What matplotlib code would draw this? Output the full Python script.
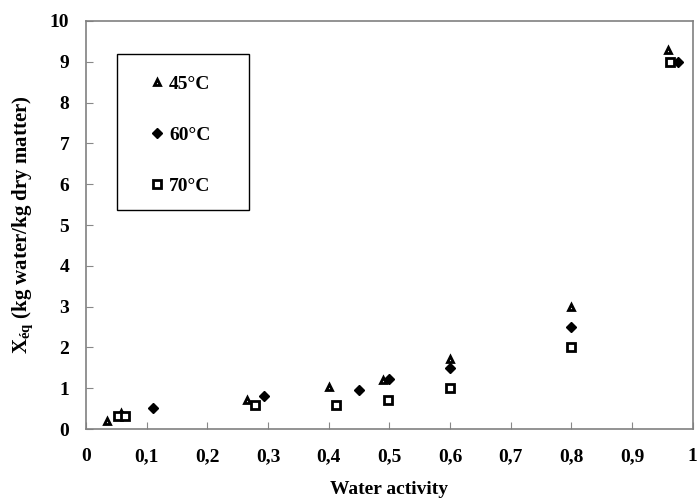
import matplotlib.pyplot as plt
from matplotlib.patches import Rectangle

# water activity / Xeq
aw_45 = [0.035, 0.057, 0.265, 0.40, 0.49, 0.60, 0.80, 0.96]
x_45 = [0.20, 0.40, 0.72, 1.02, 1.20, 1.72, 3.00, 9.30]

aw_60 = [0.11, 0.293, 0.45, 0.50, 0.60, 0.80, 0.975]
x_60 = [0.52, 0.82, 0.96, 1.22, 1.50, 2.50, 9.00]

aw_70 = [0.053, 0.065, 0.279, 0.412, 0.498, 0.60, 0.80, 0.963]
x_70 = [0.32, 0.33, 0.60, 0.60, 0.70, 1.00, 2.00, 9.00]

xticks = [0, 0.1, 0.2, 0.3, 0.4, 0.5, 0.6, 0.7, 0.8, 0.9, 1]
xtick_labels = ["0", "0,1", "0,2", "0,3", "0,4", "0,5", "0,6", "0,7", "0,8", "0,9", "1"]
yticks = list(range(0, 11))

plt.rcParams['font.family'] = ['Liberation Serif', 'DejaVu Serif']
plt.rcParams['mathtext.fontset'] = 'custom'
plt.rcParams['mathtext.rm'] = 'Liberation Serif:bold'
plt.rcParams['mathtext.it'] = 'Liberation Serif:bold'
plt.rcParams['mathtext.bf'] = 'Liberation Serif:bold'

fig = plt.figure(figsize=(6.99, 5.0), dpi=100)
ax = fig.add_axes([0.123, 0.142, 0.868, 0.816])

ax.plot(aw_45, x_45, linestyle='none', marker='^', markersize=5, markerfacecolor='white',
        markeredgecolor='black', markeredgewidth=2, label="45°C")
ax.plot(aw_60, x_60, linestyle='none', marker='D', markersize=5, color='black', label="60°C")
ax.plot(aw_70, x_70, linestyle='none', marker='s', markersize=5.5, markerfacecolor='white',
        markeredgecolor='black', markeredgewidth=2, label="70°C")

ax.set_xlim(0, 1)
ax.set_ylim(0, 10)
ax.set_xticks(xticks)
ax.set_xticklabels(xtick_labels)
ax.set_yticks(yticks)
ax.tick_params(direction='in', length=5, color='#888888', labelsize=14, pad=12)
ax.tick_params(axis='x', pad=14)
for lab in ax.get_xticklabels() + ax.get_yticklabels():
    lab.set_fontweight('bold')

for s in ax.spines.values():
    s.set_color('#808080')
    s.set_linewidth(1.2)

ax.set_xlabel("Water activity", fontsize=14, fontweight='bold', labelpad=11)
ax.set_ylabel(r"X$_{\mathrm{éq}}$ (kg water/kg dry matter)", fontsize=15, fontweight='bold', labelpad=11)

# legend box drawn separately so the padding can differ horizontally and vertically
ax.add_patch(Rectangle((0.051, 0.537), 0.218, 0.382, transform=ax.transAxes,
                       facecolor='white', edgecolor='black', linewidth=1.0, zorder=4))
leg = ax.legend(loc='upper left', bbox_to_anchor=(0.105, 0.866), frameon=False,
                handlelength=0.8, handletextpad=0.2, labelspacing=1.7, borderpad=0,
                borderaxespad=0, prop={'weight': 'bold', 'size': 14})
leg.set_zorder(5)

plt.savefig("out.png", dpi=100)
